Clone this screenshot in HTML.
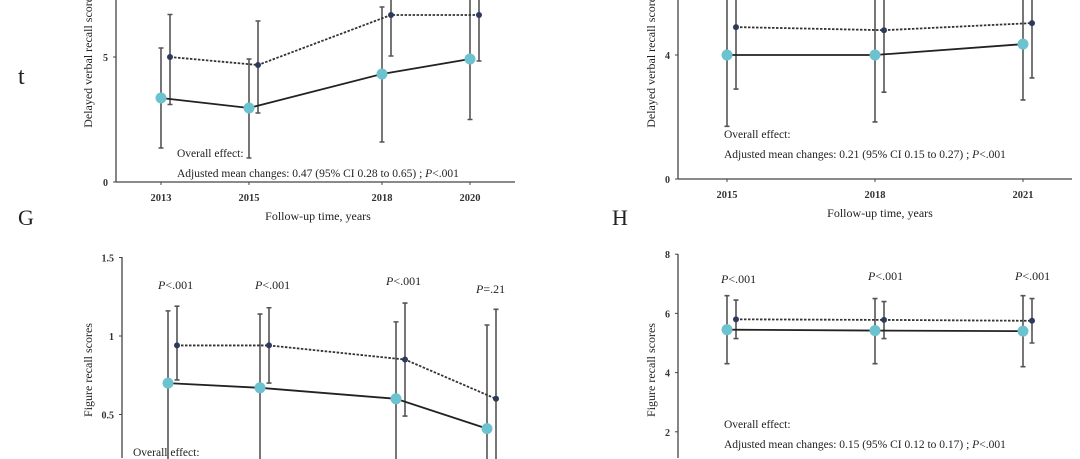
<!DOCTYPE html>
<html><head><meta charset="utf-8">
<style>
html,body{margin:0;padding:0;background:#fff;width:1080px;height:459px;overflow:hidden;}
svg{display:block;font-family:"Liberation Serif",serif;overflow:hidden;}
</style></head>
<body>
<svg id="fig" width="1080" height="459" viewBox="0 0 1080 459">
<text x="18" y="84" font-size="24" fill="#222">t</text>
<text x="18" y="225" font-size="22" fill="#222">G</text>
<text x="612" y="225" font-size="22" fill="#222">H</text>
</svg>
<script>
// Panel E (top-left): delayed verbal recall
const eYears = ["2013","2015","2018","2020"];
const eCyan = [3.36, 2.96, 4.32, 4.92];
const eCyanLo = [1.36, 0.96, 1.6, 2.5];
const eCyanHi = [5.36, 4.92, 7.0, 7.4];
const eDark = [5.0, 4.68, 6.68, 6.68];
const eDarkLo = [3.1, 2.76, 5.04, 4.84];
const eDarkHi = [6.7, 6.44, 8.3, 8.5];
const eTicks = [0, 5];
// Panel F (top-right)
const fYears = ["2015","2018","2021"];
const fCyan = [4.0, 4.0, 4.35];
const fCyanLo = [1.7, 1.84, 2.55];
const fCyanHi = [6.3, 6.2, 6.2];
const fDark = [4.9, 4.8, 5.03];
const fDarkLo = [2.9, 2.8, 3.26];
const fDarkHi = [7.0, 7.0, 7.0];
const fTicks = [0, 4];
// Panel G (bottom-left): figure recall
const gCyan = [0.70, 0.67, 0.60, 0.41];
const gCyanLo = [-0.2, 0.2, -0.2, -0.2];
const gCyanHi = [1.16, 1.14, 1.09, 1.07];
const gDark = [0.94, 0.94, 0.85, 0.60];
const gDarkLo = [0.72, 0.70, 0.49, -0.2];
const gDarkHi = [1.19, 1.18, 1.21, 1.17];
const gTicks = [0.5, 1, 1.5];
const gTickLabels = ["0.5", "1", "1.5"];
const gPLabels = ["P<.001", "P<.001", "P<.001", "P=.21"];
// Panel H (bottom-right)
const hCyan = [5.45, 5.42, 5.40];
const hCyanLo = [4.3, 4.3, 4.2];
const hCyanHi = [6.6, 6.5, 6.6];
const hDark = [5.8, 5.78, 5.75];
const hDarkLo = [5.15, 5.15, 5.0];
const hDarkHi = [6.45, 6.4, 6.5];
const hTicks = [2, 4, 6, 8];
const hPLabels = ["P<.001", "P<.001", "P<.001"];

const NS = "http://www.w3.org/2000/svg";
const svg = document.getElementById("fig");
function mk(tag, attrs, parent, text) {
  const el = document.createElementNS(NS, tag);
  for (const k in attrs) el.setAttribute(k, attrs[k]);
  if (text !== undefined) el.textContent = text;
  (parent || svg).appendChild(el);
  return el;
}
const clampY = v => Math.max(0, Math.min(459, v));

function panel(id, cfg) {
  const g = mk("g", {});
  
  
  const y = v => cfg.y0 - v * cfg.k;
  const xc = i => cfg.xs[i];
  const xd = i => cfg.xs[i] + 9;
  const clipId = id + "-clip";
  const cp = mk("clipPath", {id: clipId}, g);
  mk("rect", {x: 0, y: cfg.clipTop, width: 1080, height: cfg.clipH}, cp);
  const ya = mk("line", {x1: cfg.ax, y1: cfg.axTop, x2: cfg.ax, y2: Math.min(cfg.y0, 458), stroke: "#444", "stroke-width": 1.3}, g);
  
  
  if (cfg.y0 < 459) {
    const xa = mk("line", {x1: cfg.ax, y1: cfg.y0, x2: cfg.axRight, y2: cfg.y0, stroke: "#444", "stroke-width": 1.3}, g);
    
    
  }
  cfg.ticks.forEach((t, i) => {
    mk("line", {x1: cfg.ax - 3, y1: y(t), x2: cfg.ax, y2: y(t), stroke: "#444"}, g);
    const tl = mk("text", {x: cfg.ax - 8, y: y(t) + 4, "font-size": 10, "font-weight": "bold", "text-anchor": "end", fill: "#333"}, g, cfg.tickLabels ? cfg.tickLabels[i] : String(t));
    
    
  });
  if (cfg.years) {
    cfg.years.forEach((yr, i) => {
      mk("line", {x1: xc(i), y1: cfg.y0, x2: xc(i), y2: cfg.y0 + 3, stroke: "#444"}, g);
      const xl = mk("text", {x: xc(i), y: cfg.y0 + 19, "font-size": 10.5, "font-weight": "bold", "text-anchor": "middle", fill: "#333"}, g, yr);
      
      
    });
    const xt = mk("text", {x: cfg.xTitleX, y: cfg.y0 + 38, "font-size": 12, "text-anchor": "middle", fill: "#222"}, g, "Follow-up time, years");
    
    
  }
  const yt = mk("text", {x: 0, y: 0, "font-size": 12, "text-anchor": "middle", fill: "#222", transform: `translate(${cfg.ytX},${cfg.ytY}) rotate(-90)`}, g, cfg.yTitle);
  
  

  const dg = mk("g", {"clip-path": `url(#${clipId})`}, g);
  function bars(vals, lo, hi, xf, name) {
    vals.forEach((v, i) => {
      const yl = clampY(y(lo[i])), yh = clampY(y(hi[i]));
      let d = `M${xf(i)},${yl}V${yh}`;
      if (y(lo[i]) < 459) d += `M${xf(i)-2.5},${yl}h5`;
      if (y(hi[i]) > 0) d += `M${xf(i)-2.5},${yh}h5`;
      const b = mk("path", {d: d, stroke: "#555", "stroke-width": 1.6, fill: "none"}, dg);
      
      
    });
  }
  bars(cfg.cyan, cfg.cyanLo, cfg.cyanHi, xc, "cyan");
  bars(cfg.dark, cfg.darkLo, cfg.darkHi, xd, "dark");
  const dp = cfg.dark.map((v, i) => `${i ? "L" : "M"}${xd(i)},${y(v)}`).join("");
  const dl = mk("path", {d: dp, stroke: "#333", "stroke-width": 1.8, "stroke-dasharray": "2.5,1.5", fill: "none"}, dg);
  
  
  const cpth = cfg.cyan.map((v, i) => `${i ? "L" : "M"}${xc(i)},${y(v)}`).join("");
  const cl = mk("path", {d: cpth, stroke: "#222", "stroke-width": 1.8, fill: "none"}, dg);
  
  
  cfg.dark.forEach((v, i) => {
    const m = mk("circle", {cx: xd(i), cy: y(v), r: 3, fill: "#2e3a5c"}, dg);
    
    
  });
  cfg.cyan.forEach((v, i) => {
    const m = mk("circle", {cx: xc(i), cy: y(v), r: 5.5, fill: "#6cc3cf"}, dg);
    
    
  });
  if (cfg.pLabels) {
    cfg.pLabels.forEach((p, i) => {
      const t = mk("text", {x: cfg.pX[i], y: cfg.pY[i], "font-size": 12, fill: "#222"}, g);
      mk("tspan", {"font-style": "italic"}, t, "P");
      mk("tspan", {}, t, p.slice(1));
      
      
    });
  }
  if (cfg.effect) {
    const t1 = mk("text", {x: cfg.effX, y: cfg.effY, "font-size": 11.5, fill: "#222"}, g, "Overall effect:");
    
    
    if (cfg.effect !== true) {
      const t2 = mk("text", {x: cfg.effX, y: cfg.effY + 20, "font-size": 11.5, fill: "#222"}, g);
      mk("tspan", {}, t2, cfg.effect);
      mk("tspan", {"font-style": "italic"}, t2, "P");
      mk("tspan", {}, t2, "<.001");
      
      
    }
  }
}

panel("e", {xs: [161, 249, 382, 470], y0: 182, k: 25, ax: 116, axTop: 0, axRight: 515, clipTop: 0, clipH: 230,
  ticks: eTicks, years: eYears, xTitleX: 318, ytX: 92, ytY: 60, yTitle: "Delayed verbal recall scores",
  cyan: eCyan, cyanLo: eCyanLo, cyanHi: eCyanHi, dark: eDark, darkLo: eDarkLo, darkHi: eDarkHi,
  effX: 177, effY: 157, effect: "Adjusted mean changes: 0.47 (95% CI 0.28 to 0.65) ; "});
panel("f", {xs: [727, 875, 1023], y0: 179, k: 31, ax: 678, axTop: 0, axRight: 1072, clipTop: 0, clipH: 230,
  ticks: fTicks, years: fYears, xTitleX: 880, ytX: 655, ytY: 60, yTitle: "Delayed verbal recall scores",
  cyan: fCyan, cyanLo: fCyanLo, cyanHi: fCyanHi, dark: fDark, darkLo: fDarkLo, darkHi: fDarkHi,
  effX: 724, effY: 138, effect: "Adjusted mean changes: 0.21 (95% CI 0.15 to 0.27) ; "});
panel("g", {xs: [168, 260, 396, 487], y0: 493, k: 157, ax: 122, axTop: 257, axRight: 520, clipTop: 240, clipH: 219,
  ticks: gTicks, tickLabels: gTickLabels, ytX: 92, ytY: 370, yTitle: "Figure recall scores",
  cyan: gCyan, cyanLo: gCyanLo, cyanHi: gCyanHi, dark: gDark, darkLo: gDarkLo, darkHi: gDarkHi,
  pLabels: gPLabels, pX: [158, 255, 386, 476], pY: [289, 289, 285, 293],
  effX: 133, effY: 456, effect: true});
panel("h", {xs: [727, 875, 1023], y0: 491, k: 29.6, ax: 678, axTop: 254, axRight: 1072, clipTop: 240, clipH: 219,
  ticks: hTicks, ytX: 655, ytY: 370, yTitle: "Figure recall scores",
  cyan: hCyan, cyanLo: hCyanLo, cyanHi: hCyanHi, dark: hDark, darkLo: hDarkLo, darkHi: hDarkHi,
  pLabels: hPLabels, pX: [721, 868, 1015], pY: [283, 280, 280],
  effX: 724, effY: 428, effect: "Adjusted mean changes: 0.15 (95% CI 0.12 to 0.17) ; "});
</script>
</body></html>
